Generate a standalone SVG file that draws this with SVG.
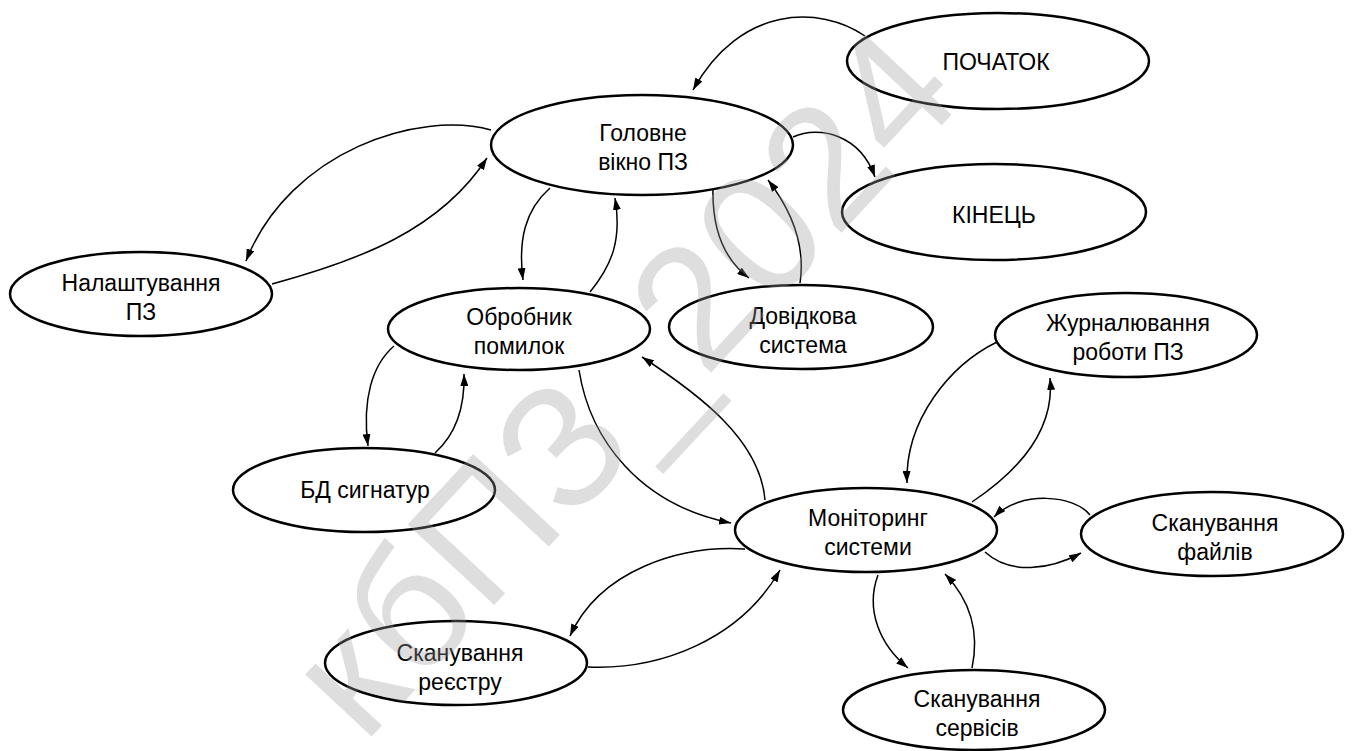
<svg xmlns="http://www.w3.org/2000/svg" width="1354" height="751" viewBox="0 0 1354 751">
<defs>
<marker id="ah" viewBox="0 0 12 8" refX="12" refY="4" markerWidth="12" markerHeight="8" markerUnits="userSpaceOnUse" orient="auto">
<path d="M0,0 L12,4 L0,8 Z" fill="#000"/>
</marker>
<style>
.n ellipse{fill:#fff;stroke:#000;stroke-width:2.5}
.n text{font-family:"Liberation Sans",Arial,sans-serif;font-size:23px;fill:#000;text-anchor:middle}
.c path{fill:none;stroke:#000;stroke-width:1.5;marker-end:url(#ah)}
.wm{font-family:"Liberation Sans",Arial,sans-serif;font-size:172px;fill:#9a9a9a;fill-opacity:0.33;text-anchor:middle}
</style>
</defs>
<rect width="1354" height="751" fill="#fff"/>
<g id="connectors" class="c">
<path d="M865,36 C820,5 740,5 693,90"/>
<path d="M793,137 C820,125 860,135 875,177"/>
<path d="M491,130 C420,110 290,150 246,261"/>
<path d="M272,284 C360,260 440,230 487,158"/>
<path d="M550,188 C525,210 518,240 523,280"/>
<path d="M590,292 C612,265 622,240 615,198"/>
<path d="M713,188 C712,230 725,260 749,278"/>
<path d="M800,283 C805,250 795,215 768,180"/>
<path d="M394,346 C372,365 362,400 368,446"/>
<path d="M435,453 C455,435 465,410 464,374"/>
<path d="M579,370 C590,440 640,505 731,523"/>
<path d="M765,500 C760,440 700,395 642,357"/>
<path d="M997,342 C950,365 905,420 907,483"/>
<path d="M972,502 C1020,470 1055,430 1050,378"/>
<path d="M1090,515 C1075,495 1020,490 994,517"/>
<path d="M985,552 C1010,575 1050,570 1081,553"/>
<path d="M878,575 C865,610 880,645 908,668"/>
<path d="M972,668 C980,630 970,600 945,574"/>
<path d="M745,549 C680,545 600,570 570,636"/>
<path d="M588,667 C660,670 740,640 780,570"/>
</g>
<g id="start" class="n"><ellipse cx="998" cy="61" rx="151" ry="48"/><text x="996" y="70">ПОЧАТОК</text></g>
<g id="main" class="n"><ellipse cx="642" cy="145" rx="151" ry="50"/><text x="643" y="141">Головне</text><text x="643" y="170">вікно ПЗ</text></g>
<g id="end" class="n"><ellipse cx="994" cy="212" rx="152" ry="48"/><text x="994" y="223">КІНЕЦЬ</text></g>
<g id="settings" class="n"><ellipse cx="141" cy="294" rx="131" ry="42"/><text x="141" y="291">Налаштування</text><text x="141" y="320">ПЗ</text></g>
<g id="errors" class="n"><ellipse cx="519" cy="329" rx="131" ry="41"/><text x="519" y="325">Обробник</text><text x="519" y="354">помилок</text></g>
<g id="help" class="n"><ellipse cx="801" cy="327" rx="132" ry="42"/><text x="803" y="324">Довідкова</text><text x="803" y="353">система</text></g>
<g id="log" class="n"><ellipse cx="1126" cy="335" rx="131" ry="42"/><text x="1128" y="331">Журналювання</text><text x="1128" y="360">роботи ПЗ</text></g>
<g id="db" class="n"><ellipse cx="364" cy="490" rx="131" ry="42"/><text x="365" y="498">БД сигнатур</text></g>
<g id="monitor" class="n"><ellipse cx="866" cy="530" rx="131" ry="42"/><text x="868" y="526">Моніторинг</text><text x="868" y="555">системи</text></g>
<g id="files" class="n"><ellipse cx="1212" cy="534" rx="131" ry="42"/><text x="1215" y="531">Сканування</text><text x="1215" y="560">файлів</text></g>
<g id="registry" class="n"><ellipse cx="456" cy="663" rx="131" ry="42"/><text x="460" y="661">Сканування</text><text x="460" y="690">реєстру</text></g>
<g id="services" class="n"><ellipse cx="974" cy="710" rx="131" ry="40"/><text x="977" y="707">Сканування</text><text x="977" y="736">сервісів</text></g>
<text class="wm" transform="translate(665,422) rotate(-47)">кбПЗ_2024</text>
</svg>
